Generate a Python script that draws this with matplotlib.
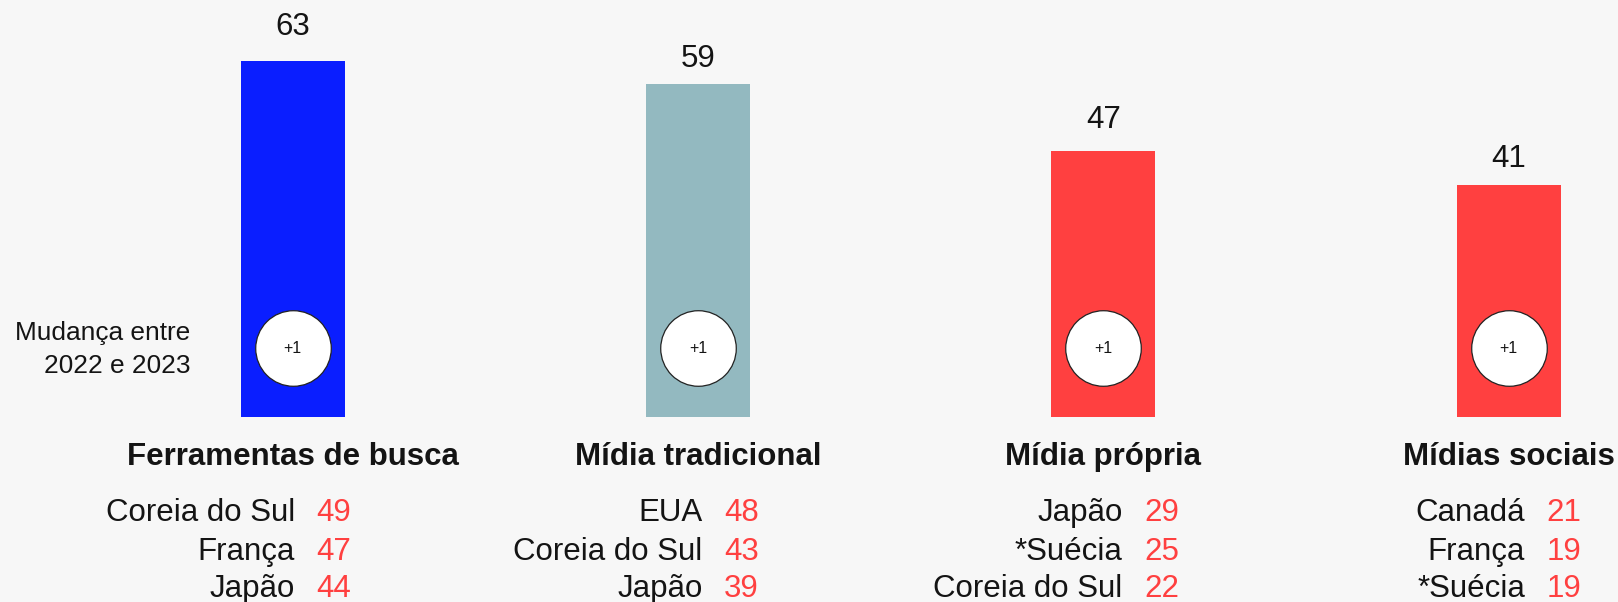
import matplotlib
matplotlib.use("Agg")
import matplotlib.pyplot as plt
from matplotlib.transforms import ScaledTranslation

plt.rcParams['font.family'] = ['Liberation Sans', 'DejaVu Sans']

# Data
categories = ["Ferramentas de busca", "Mídia tradicional", "Mídia própria", "Mídias sociais"]
values = [63, 59, 47, 41]
changes = [1, 1, 1, 1]
bar_colors = ["#0A1EFF", "#93B9C0", "#FF4040", "#FF4040"]

top_countries = [
    ["Coreia do Sul", "França", "Japão"],
    ["EUA", "Coreia do Sul", "Japão"],
    ["Japão", "*Suécia", "Coreia do Sul"],
    ["Canadá", "França", "*Suécia"],
]
top_values = [
    [49, 47, 44],
    [48, 43, 39],
    [29, 25, 22],
    [21, 19, 19],
]
change_label = "Mudança entre\n2022 e 2023"

# Styling
BG = "#F7F7F7"
INK = "#141414"
RED = "#FF4040"
label_gap_px = [26, 17, 23, 18]        # gap between bar top and value label
name_shift_px = [2.4, 4.6, 19.3, 16.2]  # right edge of country names relative to bar centre
value_gap_px = 21.5
row_offsets_px = [104.2, 142.5, 180.2]
title_offset_px = 47.5
circle_rise_px = 68.8

fig = plt.figure(figsize=(16.18, 6.02), dpi=100, facecolor=BG)
ax = fig.add_axes([0, 0, 1, 1])
ax.set_facecolor(BG)
ax.set_xlim(-0.7218, 3.2694)
ax.set_ylim(-32.69, 73.78)
ax.axis("off")

x = list(range(len(categories)))
ax.bar(x, values, width=0.2565, color=bar_colors, zorder=2)

for i, (v, cat) in enumerate(zip(values, categories)):
    # value above bar
    ax.annotate(str(v), xy=(i, v), xytext=(0, label_gap_px[i]),
                textcoords="offset pixels", ha="center", va="baseline",
                fontsize=22.5, color=INK)
    # category title under bar
    ax.annotate(cat, xy=(i, 0), xytext=(0, -title_offset_px),
                textcoords="offset pixels", ha="center", va="baseline",
                fontsize=22.5, fontweight="bold", color=INK)
    # top countries table
    for r, (name, tv) in enumerate(zip(top_countries[i], top_values[i])):
        ax.annotate(name, xy=(i, 0), xytext=(name_shift_px[i], -row_offsets_px[r]),
                    textcoords="offset pixels", ha="right", va="baseline",
                    fontsize=22.5, color=INK)
        ax.annotate(str(tv), xy=(i, 0),
                    xytext=(name_shift_px[i] + value_gap_px, -row_offsets_px[r]),
                    textcoords="offset pixels", ha="left", va="baseline",
                    fontsize=22.5, color=RED)

# change-circle inside each bar
lift = ax.transData + ScaledTranslation(0, circle_rise_px / fig.dpi, fig.dpi_scale_trans)
for i, c in enumerate(changes):
    ax.plot([i], [0], marker="o", markersize=54.4, markerfacecolor="white",
            markeredgecolor="#222222", markeredgewidth=0.9, transform=lift, zorder=3)
    ax.text(i, 0, f"+{c}", transform=lift, ha="center", va="center",
            fontsize=11.5, color=INK, zorder=4)

# side note next to the first circle
note_shift = ScaledTranslation(-102.6 / fig.dpi, (circle_rise_px - 1.0) / fig.dpi,
                               fig.dpi_scale_trans)
ax.text(0, 0, change_label, transform=ax.transData + note_shift,
        ha="right", va="center", multialignment="right",
        fontsize=18.9, color=INK, linespacing=1.45)

fig.savefig("out.png", dpi=100, facecolor=BG)
